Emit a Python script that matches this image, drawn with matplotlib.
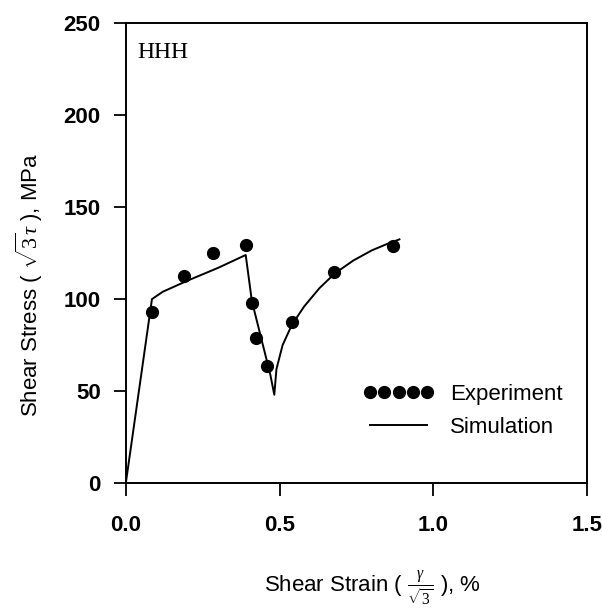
import matplotlib.pyplot as plt
from matplotlib.ticker import FormatStrFormatter

# Donnees
exp_strain = [0.084, 0.189, 0.282, 0.39, 0.41, 0.423, 0.459, 0.541, 0.678, 0.868]
exp_stress = [93, 112.5, 125, 129.5, 98, 79, 63.5, 87.5, 114.5, 129]

sim_strain = [0.0, 0.085, 0.12, 0.2, 0.3, 0.39, 0.41, 0.44, 0.47, 0.483,
              0.49, 0.51, 0.54, 0.58, 0.63, 0.68, 0.74, 0.8, 0.85, 0.89]
sim_stress = [0.0, 100, 104, 110, 117, 124, 99, 79, 59, 48,
              62, 75, 86, 96, 106, 114, 121, 126.5, 130, 132.5]

plt.rcParams['font.family'] = ['Liberation Sans', 'DejaVu Sans']
plt.rcParams['mathtext.fontset'] = 'custom'
plt.rcParams['mathtext.rm'] = 'Liberation Serif'
plt.rcParams['mathtext.it'] = 'Liberation Serif:italic'

fig = plt.figure(figsize=(6.02, 6.10), dpi=100)
ax = fig.add_axes([0.209, 0.208, 0.766, 0.754])

ax.plot(sim_strain, sim_stress, color='black', lw=1.4, label='Simulation')
ax.plot(exp_strain, exp_stress, 'o', color='black', ms=8.5, label='Experiment')

ax.set_xlim(0, 1.5)
ax.set_ylim(0, 250)
ax.set_xticks([0.0, 0.5, 1.0, 1.5])
ax.set_yticks([0, 50, 100, 150, 200, 250])
ax.xaxis.set_major_formatter(FormatStrFormatter('%.1f'))
ax.tick_params(direction='out', length=9, width=1.3, labelsize=16)
ax.tick_params(axis='x', pad=14)
ax.tick_params(axis='y', pad=9)
for lab in ax.get_xticklabels() + ax.get_yticklabels():
    lab.set_fontweight('bold')
for s in ax.spines.values():
    s.set_linewidth(1.4)

ax.set_xlabel(r'Shear Strain ( $\frac{\gamma}{\sqrt{3}}$ ), %', fontsize=16)
ax.xaxis.set_label_coords(0.535, -0.185)
ax.set_ylabel(r'Shear Stress ( $\sqrt{3}\tau$ ), MPa', fontsize=16)
ax.yaxis.set_label_coords(-0.176, 0.43)

ax.text(0.026, 0.96, 'HHH', transform=ax.transAxes, fontsize=17,
        family='Liberation Serif', va='top', ha='left')

h, l = ax.get_legend_handles_labels()
ax.legend([h[1], h[0]], [l[1], l[0]], loc='lower right', bbox_to_anchor=(0.99, 0.055),
          frameon=False, numpoints=5, fontsize=16, handlelength=3.2,
          markerscale=1.0, labelspacing=0.55, handletextpad=0.7)

fig.savefig('out.png', dpi=100)
